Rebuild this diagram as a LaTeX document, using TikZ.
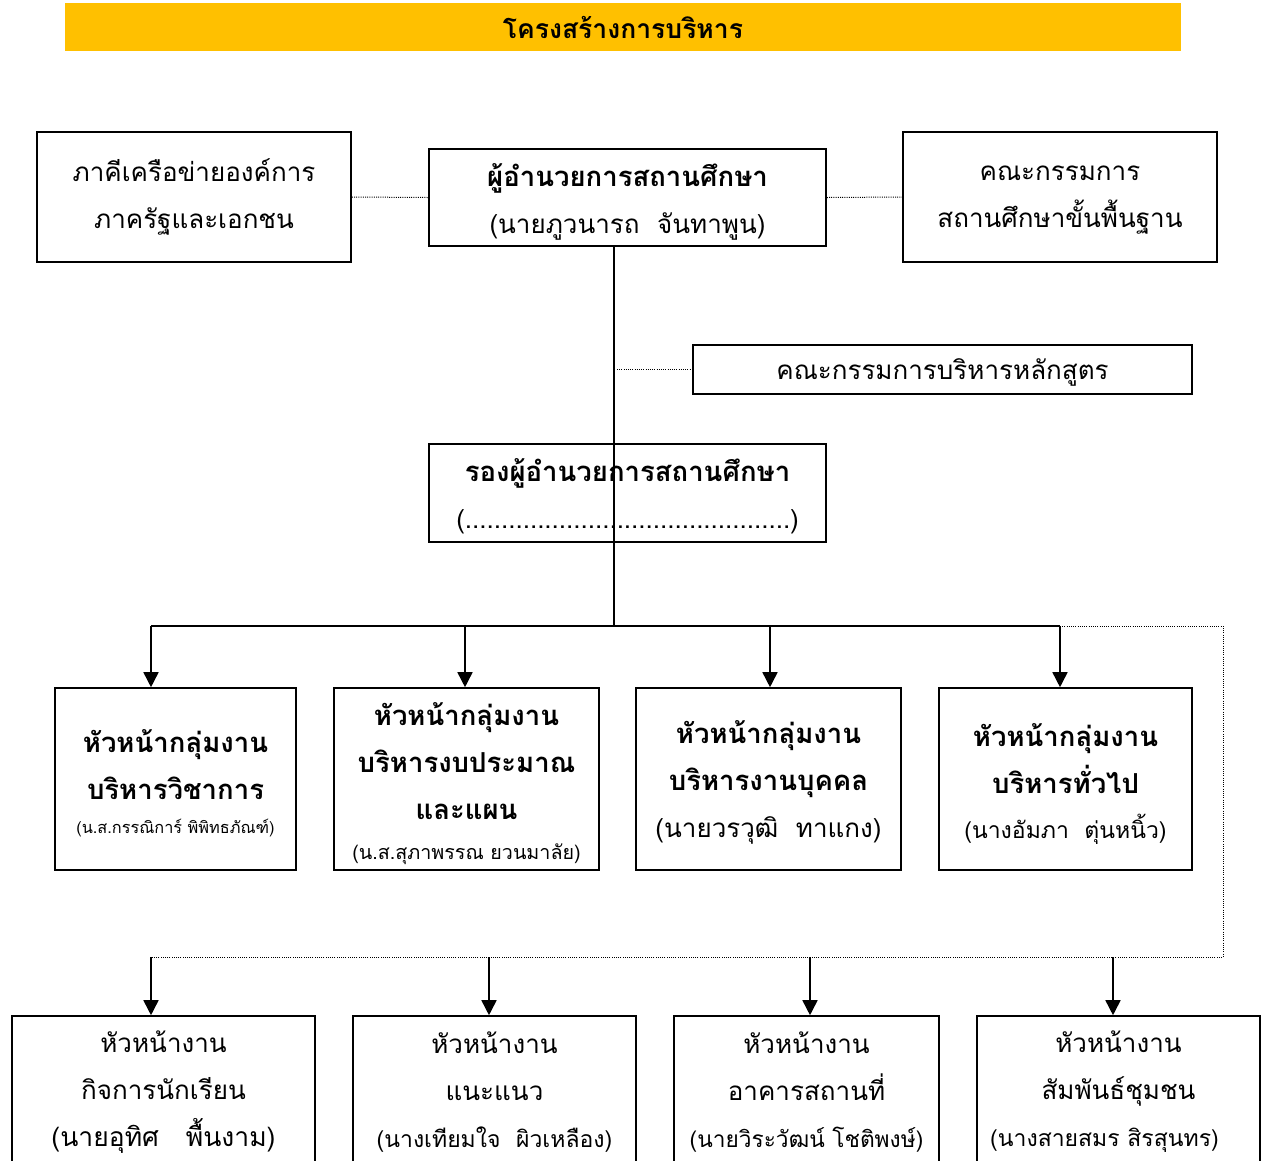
\documentclass[tikz,border=0pt]{standalone}
\usepackage{fontspec}
\setmainfont[Script=Thai]{Loma}
\usetikzlibrary{arrows.meta}
\definecolor{titlebar}{HTML}{FFC000}
\begin{document}
\begin{tikzpicture}[x=1pt,y=-1pt,
  box/.style={draw, line width=1.6pt, fill=white, inner sep=0pt},
  txt/.style={align=center, inner sep=0pt},
  reg/.style={font=\fontsize{26}{47}\selectfont},
  bld/.style={font=\fontsize{27.5}{47}\selectfont\bfseries},
  arr/.style={line width=1.6pt, -{Triangle[width=15pt,length=15pt]}},
  dotl/.style={line width=1pt, dash pattern=on 1pt off 1.2pt}]
\useasboundingbox (0,0) rectangle (1269,1160);
% title
\node[fill=titlebar, minimum width=1116pt, minimum height=48pt, inner sep=0pt,
  font=\fontsize{26.5}{30}\selectfont\bfseries] (title) at (623,27) {โครงสร้างการบริหาร};
% boxes
\node[box, minimum width=314pt, minimum height=130pt] (net) at (194,197) {};
\node[box, minimum width=397pt, minimum height=97pt] (dir) at (627.5,197.5) {};
\node[box, minimum width=314pt, minimum height=130pt] (board) at (1060,197) {};
\node[box, minimum width=499pt, minimum height=49pt] (cur) at (942.5,369.5) {};
\node[box, minimum width=397pt, minimum height=98pt] (dep) at (627.5,493) {};
\node[box, minimum width=241pt, minimum height=182pt] (g1) at (175.5,779) {};
\node[box, minimum width=265pt, minimum height=182pt] (g2) at (466.5,779) {};
\node[box, minimum width=265pt, minimum height=182pt] (g3) at (768.5,779) {};
\node[box, minimum width=253pt, minimum height=182pt] (g4) at (1065.5,779) {};
\node[box, minimum width=303pt, minimum height=148pt] (b1) at (163.5,1090) {};
\node[box, minimum width=283pt, minimum height=148pt] (b2) at (494.5,1090) {};
\node[box, minimum width=265pt, minimum height=148pt] (b3) at (806.5,1090) {};
\node[box, minimum width=283pt, minimum height=148pt] (b4) at (1118.5,1090) {};
% texts
\node[txt, reg] (nett) at (net.center) {ภาคีเครือข่ายองค์การ\\ภาครัฐและเอกชน};
\node[txt, reg] (dirt) at ([yshift=-4pt]dir.center)
  {{\fontsize{27.5}{47}\selectfont\bfseries ผู้อำนวยการสถานศึกษา}\\(นายภูวนารถ\ \ จันทาพูน)};
\node[txt, reg] (boardt) at ([yshift=-3pt]board.center) {คณะกรรมการ\\สถานศึกษาขั้นพื้นฐาน};
\node[txt, reg] (curt) at ([yshift=-3pt]cur.center) {คณะกรรมการบริหารหลักสูตร};
\node[txt, reg] (dept) at ([yshift=-3.5pt]dep.center)
  {{\fontsize{27.5}{47}\selectfont\bfseries รองผู้อำนวยการสถานศึกษา}\\(.............................................)};
\node[txt, bld] (g1t) at ([yshift=-4pt]g1.center)
  {หัวหน้ากลุ่มงาน\\บริหารวิชาการ\\[-13pt]{\fontsize{16.3}{20}\selectfont\mdseries (น.ส.กรรณิการ์ พิพิทธภัณฑ์)}};
\node[txt, bld] (g2t) at ([yshift=-5pt]g2.center)
  {หัวหน้ากลุ่มงาน\\บริหารงบประมาณ\\และแผน\\[-7pt]{\fontsize{19.7}{22}\selectfont\mdseries (น.ส.สุภาพรรณ ยวนมาลัย)}};
\node[txt, bld] (g3t) at ([yshift=-3.5pt]g3.center)
  {หัวหน้ากลุ่มงาน\\บริหารงานบุคคล\\{\fontsize{26}{30}\selectfont\mdseries (นายวรวุฒิ\ \ ทาแกง)}};
\node[txt, bld] (g4t) at ([yshift=-5pt]g4.center)
  {หัวหน้ากลุ่มงาน\\บริหารทั่วไป\\[-2pt]{\fontsize{23}{28}\selectfont\mdseries (นางอัมภา\ \ ตุ่นหนิ้ว)}};
\node[txt, reg] (b1t) at ([yshift=-2pt]b1.center)
  {หัวหน้างาน\\กิจการนักเรียน\\{\fontsize{26.5}{30}\selectfont (นายอุทิศ\ \ \ พื้นงาม)}};
\node[txt, reg] (b2t) at ([yshift=-2pt]b2.center)
  {หัวหน้างาน\\แนะแนว\\{\fontsize{23}{28}\selectfont (นางเทียมใจ\ \ ผิวเหลือง)}};
\node[txt, reg] (b3t) at ([yshift=-2pt]b3.center)
  {หัวหน้างาน\\อาคารสถานที่\\{\fontsize{22.7}{28}\selectfont (นายวิระวัฒน์ โชติพงษ์)}};
\node[txt, reg] (b4t) at ([yshift=-2pt]b4.center)
  {หัวหน้างาน\\สัมพันธ์ชุมชน\\{\fontsize{23}{28}\selectfont (นางสายสมร สิรสุนทร)\kern28pt}};
% coordinates
\coordinate (trunk) at (614,626);
\coordinate (a1) at (151,626);
\coordinate (a2) at (465,626);
\coordinate (a3) at (770,626);
\coordinate (a4) at (1060,626);
\coordinate (c1) at (1223,626);
\coordinate (c2) at (1223,957);
\coordinate (d1) at (151,957);
\coordinate (d2) at (489,957);
\coordinate (d3) at (810,957);
\coordinate (d4) at (1113,957);
\coordinate (cj) at (617,369.5);
% dotted links
\draw[dotl] (net.east) -- (dir.west);
\draw[dotl] (dir.east) -- (board.west);
\draw[dotl] (cj) -- (cur.west);
\draw[dotl] (a4) -- (c1) -- (c2) -- (d1);
% solid trunk
\draw[line width=1.6pt] (dir.south -| trunk) -- (trunk);
\draw[line width=1.6pt] (a1) -- (a4);
\draw[arr] (a1) -- (a1 |- g1.north);
\draw[arr] (a2) -- (a2 |- g2.north);
\draw[arr] (a3) -- (a3 |- g3.north);
\draw[arr] (a4) -- (a4 |- g4.north);
\draw[arr] (d1) -- (d1 |- b1.north);
\draw[arr] (d2) -- (d2 |- b2.north);
\draw[arr] (d3) -- (d3 |- b3.north);
\draw[arr] (d4) -- (d4 |- b4.north);
\end{tikzpicture}
\end{document}
